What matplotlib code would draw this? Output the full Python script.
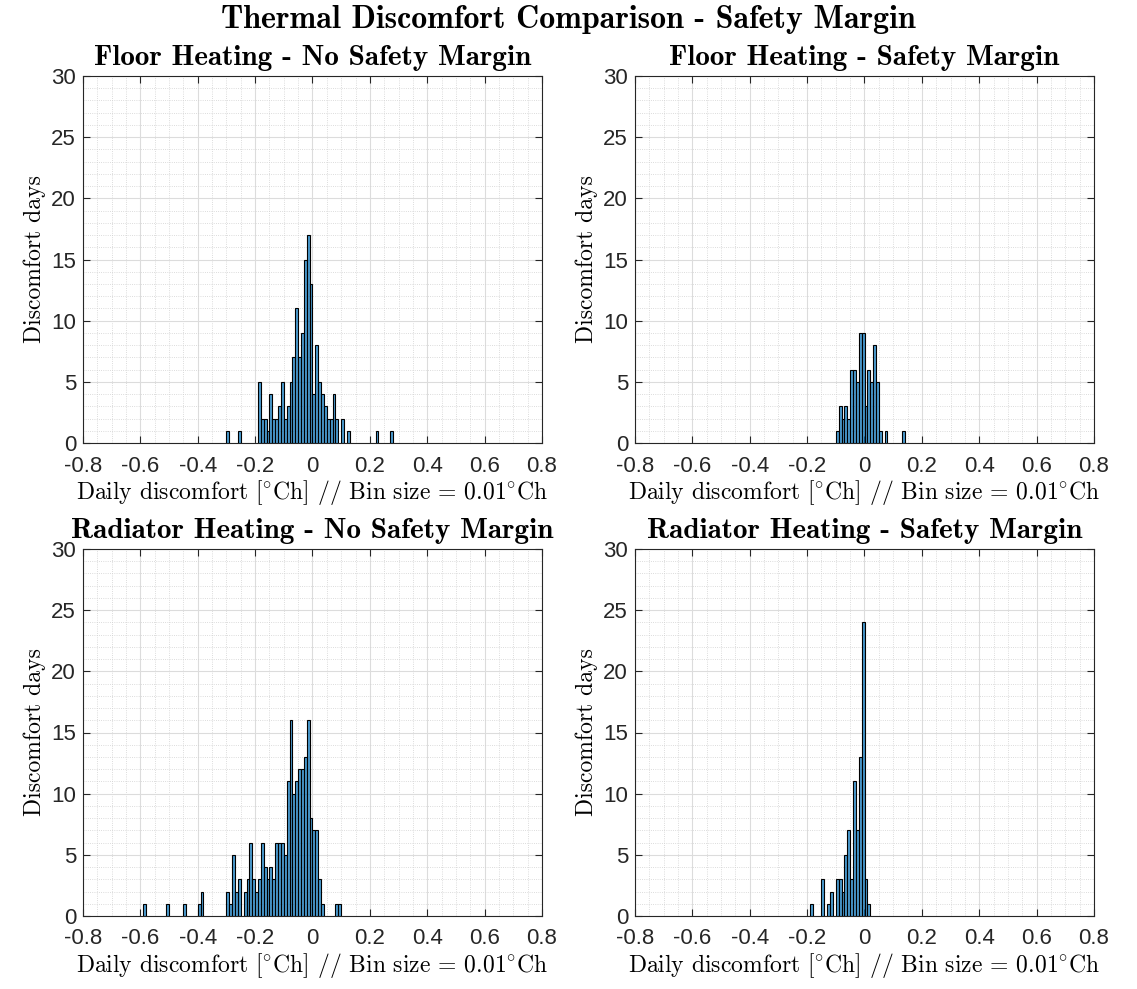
import numpy as np
import matplotlib
matplotlib.use('Agg')
import matplotlib.pyplot as plt
from matplotlib.ticker import MultipleLocator

plt.rcParams['mathtext.fontset'] = 'cm'
plt.rcParams['axes.unicode_minus'] = False

# bin left edges (bin size 0.01) and counts
fh_nosm_edges = [-0.30, -0.26, -0.19, -0.18, -0.17, -0.16, -0.15, -0.14, -0.13, -0.12,
                 -0.11, -0.10, -0.09, -0.08, -0.07, -0.06, -0.05, -0.04, -0.03, -0.02,
                 -0.01, 0.00, 0.01, 0.02, 0.03, 0.04, 0.05, 0.06, 0.07, 0.08,
                 0.10, 0.12, 0.22, 0.27]
fh_nosm_counts = [1, 1, 5, 2, 2, 1, 4, 2, 2, 3,
                  5, 2, 3, 5, 7, 11, 7, 9, 15, 17,
                  13, 4, 8, 5, 4, 3, 2, 2, 4, 2,
                  2, 1, 1, 1]

fh_sm_edges = [-0.10, -0.09, -0.08, -0.07, -0.06, -0.05, -0.04, -0.03, -0.02, -0.01,
               0.00, 0.01, 0.02, 0.03, 0.04, 0.05, 0.07, 0.13]
fh_sm_counts = [1, 3, 2, 3, 2, 6, 6, 5, 9, 9,
                3, 6, 5, 8, 5, 1, 1, 1]

rad_nosm_edges = [-0.59, -0.51, -0.45, -0.40, -0.39, -0.30, -0.29, -0.28, -0.27, -0.26,
                  -0.24, -0.23, -0.22, -0.21, -0.20, -0.19, -0.18, -0.17, -0.16, -0.15,
                  -0.14, -0.13, -0.12, -0.11, -0.10, -0.09, -0.08, -0.07, -0.06, -0.05,
                  -0.04, -0.03, -0.02, -0.01, 0.00, 0.01, 0.02, 0.03, 0.08, 0.09]
rad_nosm_counts = [1, 1, 1, 1, 2, 2, 1, 5, 2, 3,
                   2, 3, 6, 3, 2, 3, 6, 4, 3, 4,
                   3, 6, 6, 6, 5, 11, 16, 10, 11, 12,
                   12, 13, 16, 8, 7, 7, 3, 1, 1, 1]

rad_sm_edges = [-0.19, -0.15, -0.13, -0.12, -0.10, -0.09, -0.08, -0.07, -0.06, -0.05,
                -0.04, -0.03, -0.02, -0.01, 0.00, 0.01]
rad_sm_counts = [1, 3, 1, 2, 3, 3, 2, 5, 7, 3,
                 11, 7, 13, 24, 3, 1]

titles = ['Floor Heating - No Safety Margin', 'Floor Heating - Safety Margin',
          'Radiator Heating - No Safety Margin', 'Radiator Heating - Safety Margin']
suptitle = 'Thermal Discomfort Comparison - Safety Margin'
xlabel = r'Daily discomfort [$^{\circ}$Ch] // Bin size = 0.01$^{\circ}$Ch'
ylabel = 'Discomfort days'
bin_size = 0.01

W, H = 1137, 989
fig = plt.figure(figsize=(W / 100, H / 100), dpi=100)

# axes boxes in pixels: left, top, right, bottom
boxes = [(83, 76, 542, 443), (635, 76, 1094, 443),
         (83, 549, 542, 916), (635, 549, 1094, 916)]
data = [(fh_nosm_edges, fh_nosm_counts), (fh_sm_edges, fh_sm_counts),
        (rad_nosm_edges, rad_nosm_counts), (rad_sm_edges, rad_sm_counts)]


def draw_panel(ax, edges, counts, title):
    ax.bar(edges, counts, width=bin_size, align='edge',
           facecolor=(0.0, 0.447, 0.741, 0.7), edgecolor='black', linewidth=0.8, zorder=3)
    ax.set_xlim(-0.8, 0.8)
    ax.set_ylim(0, 30)
    ax.xaxis.set_minor_locator(MultipleLocator(0.05))
    ax.yaxis.set_major_locator(MultipleLocator(5))
    ax.yaxis.set_minor_locator(MultipleLocator(1))
    ax.set_xticks(np.arange(-0.8, 0.81, 0.2))
    ax.set_xticklabels(['-0.8', '-0.6', '-0.4', '-0.2', '0', '0.2', '0.4', '0.6', '0.8'])
    ax.grid(True, which='major', color='#dcdcdc', linewidth=0.8, zorder=0)
    ax.grid(True, which='minor', color='#d0d0d0', linewidth=0.6, linestyle=':', zorder=0)
    ax.tick_params(which='major', direction='in', length=5, width=0.8, color='#262626',
                   top=True, right=True, labelsize=16, labelcolor='#262626')
    ax.tick_params(axis='x', which='major', pad=9)
    ax.tick_params(axis='y', which='major', pad=5)
    ax.tick_params(which='minor', length=0)
    for lab in ax.get_xticklabels() + ax.get_yticklabels():
        lab.set_fontfamily('Liberation Sans')
    for sp in ax.spines.values():
        sp.set_color('#262626')
        sp.set_linewidth(0.8)
    ax.set_axisbelow(True)
    ax.set_title(title, fontfamily='cmb10', fontsize=21, pad=8)
    ax.set_xlabel(xlabel, fontfamily='cmr10', fontsize=17, labelpad=1)
    ax.set_ylabel(ylabel, fontfamily='cmr10', fontsize=17, labelpad=4)


for (l, t, r, b), (edges, counts), title in zip(boxes, data, titles):
    ax = fig.add_axes([l / W, 1 - b / H, (r - l) / W, (b - t) / H])
    draw_panel(ax, edges, counts, title)

fig.text(0.5, 1 - 19 / H, suptitle, ha='center', va='center', fontfamily='cmb10', fontsize=23)

fig.savefig('out.png', dpi=100)
